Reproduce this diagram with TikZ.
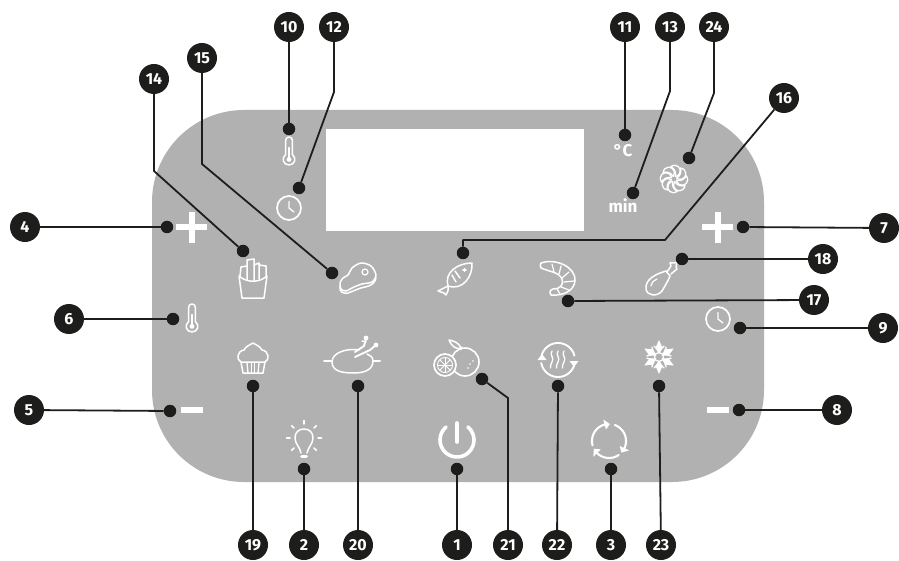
\documentclass[tikz,border=0pt]{standalone}
\usepackage{fontspec}
\setmainfont{Fira Sans}
\definecolor{panelgray}{HTML}{B1B1B1}
\definecolor{inkblack}{HTML}{1D1D1B}
\tikzset{
  panel/.style={rectangle,fill=panelgray,rounded corners=92pt,minimum width=612pt,minimum height=372pt,inner sep=0},
  screen/.style={rectangle,fill=white,minimum width=258pt,minimum height=102pt,inner sep=0},
  num/.style={circle,fill=inkblack,text=white,minimum size=30pt,inner sep=0,font=\fontsize{16}{16}\selectfont\bfseries},
  dotnode/.style={circle,fill=inkblack,minimum size=12.5pt,inner sep=0},
  conn/.style={draw=inkblack,line width=1.8pt,line join=round},
  ico/.style={draw=white,line width=1.5pt,line join=round,line cap=round},
  panellabel/.style={text=white,inner sep=0,font=\fontsize{17}{17}\selectfont\bfseries}
}
\newcommand\ringarc[4][ico]{\draw[#1] plot[smooth,samples=24,domain=#3:#4,variable=\t] ({#2*cos(\t)},{#2*sin(\t)});}
\newcommand\ringhead[3]{\fill[white] (#2:{#1-5.2}) -- (#2:{#1+5.2}) -- ({#2+#3}:#1) -- cycle;}
\newcommand\thermo{%
  \draw[ico] (-3.6,-14) -- (-3.6,1.5) .. controls (-9,6) and (-6,13) .. (0,13) .. controls (6,13) and (9,6) .. (3.6,1.5) -- (3.6,-14) .. controls (3.6,-18.5) and (-3.6,-18.5) .. (-3.6,-14) -- cycle;
  \draw[ico,line width=1.1pt] (0,-6) -- (0,6);
  \fill[white] (0,7) circle[radius=2.6pt];}
\newcommand\clock[1]{%
  \draw[ico,line width=1.7pt] (0,0) circle[radius=#1pt];
  \draw[ico,line width=1.3pt] (0,-6.5) -- (0,0) -- (5,4);}
\begin{document}
\begin{tikzpicture}[x=1pt,y=-1pt]
\useasboundingbox (0,0) rectangle (899,561);
\fill[white] (0,0) rectangle (899,561);
\node[panel] (panel) at (458,296) {};
\node[screen] (display) at (455,180) {};

% ---- icons ----
% plus / minus
\fill[white] (176,224.5) rectangle (207,230); \fill[white] (189.2,212) rectangle (194.8,243);
\fill[white] (702,224.5) rectangle (733,230); \fill[white] (715.2,212) rectangle (720.8,243);
\fill[white] (181,407) rectangle (203,413);
\fill[white] (707,407) rectangle (729,413);
% thermometers, clocks
\begin{scope}[shift={(289,153)},scale=0.92]\thermo\end{scope}
\begin{scope}[shift={(192,320)},scale=0.92]\thermo\end{scope}
\begin{scope}[shift={(289,208)}]\clock{12}\end{scope}
\begin{scope}[shift={(718,319)}]\clock{12}\end{scope}
\node[panellabel] (degc) at (623,151) {°C};
\node[panellabel] (mintxt) at (623,206) {min};
% fan
\begin{scope}[shift={(674,179)},scale=0.82]
  \foreach \a in {0,45,...,315}{
    \begin{scope}[rotate=\a]
      \draw[ico,line width=1.3pt] (1.5,-3) .. controls (3,-9) and (0,-13) .. (-4,-15) .. controls (3,-20) and (10,-13) .. (7,-7) .. controls (6,-5) and (4,-3) .. (1.5,-3);
    \end{scope}}
\end{scope}
% fries
\begin{scope}[shift={(253,279)}]
  \draw[ico] (-14,-3) -- (-11,19) -- (11,19) -- (14,-3) .. controls (6,4) and (-6,4) .. (-14,-3) -- cycle;
  \draw[ico] (-13,-3) -- (-12,-12) -- (-6,-13) -- (-6,1);
  \draw[ico] (-6,-13) -- (-6,-19) -- (1,-20) -- (1,2);
  \draw[ico] (1,-14) -- (6,-16) -- (6,0);
  \draw[ico] (6,-14) -- (13,-13) -- (13,-3);
\end{scope}
% steak
\begin{scope}[shift={(357,278)}]
  \draw[ico] plot[smooth cycle] coordinates {(-17,5) (-14,0) (-9,-3) (-5,-10) (4,-15) (14,-12) (19,-3) (15,4) (5,6) (-3,9) (-11,13) (-16,11)};
  \draw[ico] (-17,8) .. controls (-18,14) and (-14,16) .. (-9,15) .. controls (-3,13) and (2,10) .. (8,9) .. controls (14,8) and (18,5) .. (19,0);
  \draw[ico,line width=1.2pt] (8,-6) circle[radius=3pt];
\end{scope}
% fish
\begin{scope}[shift={(455,278)}]
  \draw[ico] (-7,8) .. controls (-11,-5) and (2,-15) .. (17,-15) .. controls (18,-2) and (8,13) .. (-7,8);
  \draw[ico] (-7,8) -- (-17,13) -- (-11,15) -- (-9,17) .. controls (-7,13) and (-6,11) .. (-7,8);
  \draw[ico] (-3,-3) -- (1,4); \draw[ico] (0,-7) -- (5,0);
  \draw[ico] (8,-8) -- (11,-8); \draw[ico] (9.5,-9.5) -- (9.5,-6.5);
\end{scope}
% shrimp
\begin{scope}[shift={(558,278)}]
  \draw[ico] (-17,-15) .. controls (-4,-20) and (18,-12) .. (17,3) .. controls (16,13) and (5,18) .. (-7,17) .. controls (-9,14) and (-8,12) .. (-5,11) .. controls (3,11) and (6,6) .. (4,1) .. controls (1,-6) and (-8,-6) .. (-17,-10) .. controls (-18,-12) and (-18,-14) .. (-17,-15) -- cycle;
  \draw[ico,line width=1.2pt] (-6,-14) -- (-4,-6); \draw[ico,line width=1.2pt] (3,-12) -- (1,-4);
  \draw[ico,line width=1.2pt] (11,-6) -- (4,0); \draw[ico,line width=1.2pt] (16,3) -- (6,4); \draw[ico,line width=1.2pt] (11,12) -- (3,9); \draw[ico,line width=1.2pt] (2,16) -- (-1,11);
\end{scope}
% drumstick
\begin{scope}[shift={(662,278)}]
  \draw[ico] (4,-7) .. controls (-6,-4) and (-17,1) .. (-16,11) .. controls (-15,18) and (-5,19) .. (0,13) .. controls (3,8) and (6,3) .. (8,-2);
  \draw[ico] (4,-7) -- (8,-2);
  \draw[ico] (5,-6) -- (9,-12) -- (8,-15) -- (12,-15) -- (15,-16) -- (14,-11) -- (15,-9) -- (9,-4);
  \draw[ico,line width=1.2pt] (-11,8) .. controls (-10,4) and (-8,2) .. (-5,1);
\end{scope}
% muffin
\begin{scope}[shift={(253,360)}]
  \draw[ico] (-12,2) .. controls (-17,0) and (-16,-9) .. (-9,-10) .. controls (-7,-14) and (-3,-15) .. (0,-17) .. controls (3,-15) and (7,-14) .. (9,-10) .. controls (16,-9) and (17,0) .. (12,2) -- cycle;
  \draw[ico] (-12,2) -- (-10,13) -- (10,13) -- (12,2);
  \draw[ico,line width=1.3pt] (-6,3) -- (-5,13); \draw[ico,line width=1.3pt] (-1.5,3) -- (-1.5,13); \draw[ico,line width=1.3pt] (1.5,3) -- (1.5,13); \draw[ico,line width=1.3pt] (6,3) -- (5,13);
\end{scope}
% roast chicken
\begin{scope}[shift={(352,360)}]
  \draw[ico,line width=2pt] (-28,1) -- (-21,1); \draw[ico,line width=2pt] (21,1) -- (28,1);
  \draw[ico] (7,-10) .. controls (-4,-12) and (-20,-8) .. (-20,2) .. controls (-20,12) and (-8,13) .. (2,13) .. controls (12,13) and (21,10) .. (21,1) .. controls (21,-3) and (18,-5) .. (15,-6);
  \draw[ico,line width=1.9pt] (3,-8) -- (12,-14) -- (14,-21); \draw[ico,line width=1.9pt] (3,-3) -- (18,-10) -- (24,-15);
  \fill[white] (14,-22) circle[radius=2.4pt]; \fill[white] (24,-15) circle[radius=2.4pt];
  \draw[ico] (10,-19) -- (14,-18);
\end{scope}
% citrus
\begin{scope}[shift={(457,358)}]
  \draw[ico,line width=1.6pt] (8,4) circle[radius=14pt];
  \draw[draw=white,fill=panelgray,line width=1.7pt] (-12,7) circle[radius=11pt];
  \draw[ico,line width=0.9pt] (-12,7) circle[radius=7.5pt];
  \foreach \a in {0,45,...,315}{\draw[ico,line width=0.8pt] (-12,7) -- ++(\a:7);}
  \draw[ico] (-8,-18) .. controls (-3,-17) and (3,-15) .. (4,-9) .. controls (-1,-9) and (-6,-12) .. (-8,-18) -- cycle;
  \draw[ico] (4,-9) -- (5,-11);
  \fill[white] (13,6) circle[radius=0.8pt] (16,3) circle[radius=0.8pt] (11,10) circle[radius=0.8pt];
\end{scope}
% steam recirculation
\begin{scope}[shift={(558,360)}]
  \ringarc[ico,line width=1.9pt]{17}{195}{345}
  \ringarc[ico,line width=1.9pt]{17}{20}{170}
  \fill[white] (20.5,1) -- (11.5,1) -- (16,7) -- cycle;
  \fill[white] (-20.5,0) -- (-11.5,0) -- (-16,-6) -- cycle;
  \foreach \x in {-6,0,6}{\draw[ico,line width=1.3pt] (\x,-9) .. controls (\x-3,-5) and (\x+3,-2) .. (\x,2) .. controls (\x-2,4) and (\x-1,6) .. (\x-1.5,8);}
\end{scope}
% snowflake
\begin{scope}[shift={(659,357)}]
  \foreach \a in {0,60,...,300}{
    \begin{scope}[rotate=\a]
      \fill[white] (0,-3) -- (3.6,-9) -- (0,-17) -- (-3.6,-9) -- cycle;
      \draw[ico,line width=1.4pt] (-5,-11) -- (0,-6) -- (5,-11);
    \end{scope}}
  \draw[ico,line width=1.2pt] (0,0) circle[radius=4.5pt];
\end{scope}
% bulb
\begin{scope}[shift={(304,438)}]
  \draw[ico] (-3,15) .. controls (-4,9) and (-9,6) .. (-9,0) .. controls (-9,-6) and (-5,-9) .. (0,-9) .. controls (5,-9) and (9,-6) .. (9,0) .. controls (9,6) and (4,9) .. (3,15);
  \draw[ico,line width=3pt] (-2.5,18.5) -- (2.5,18.5);
  \foreach \a in {-180,-135,-90,-45,0,45,135}{\draw[ico] (\a:14) -- (\a:17.5);}
\end{scope}
% power
\begin{scope}[shift={(457,440)}]
  \ringarc[ico,line width=3.6pt]{17}{-50}{230}
  \draw[ico,line width=3.6pt] (0,-17) -- (0,2);
\end{scope}
% cycle
\begin{scope}[shift={(609,441)}]
  \ringarc[ico,line width=2.1pt]{17}{165}{258}
  \ringarc[ico,line width=2.1pt]{17}{-70}{27}
  \ringarc[ico,line width=2.1pt]{17}{55}{137}
  \ringhead{17}{255}{18}
  \ringhead{17}{25}{18}
  \ringhead{17}{135}{18}
\end{scope}

% ---- anchor dots ----
\foreach \n/\x/\y in {10/289/129,12/299/188,11/625/135,13/633/193,24/689/158,16/463/253,14/243/251,15/332/273,4/167/227,6/173/319,5/170/411,19/253/386,20/358/386,2/304/469,1/457/469,21/482/379,22/558/386,3/611/469,23/659/386,17/568/301,18/682/259,7/743/227,9/740/328,8/739/410}
  {\node[dotnode] (d\n) at (\x,\y) {};}

% ---- numbered callouts ----
\foreach \n/\x/\y in {10/289/27,12/334/27,11/625/27,13/670/27,24/714/27,16/784/98,14/154/79,15/202/58,4/25/227,6/69/319,5/29/410,19/253/545,2/304/545,20/358/545,1/457/545,21/508/545,22/557/545,3/611/545,23/661/545,7/884/228,18/823/259,17/814/300,9/883/328,8/837/410}
  {\node[num] (n\n) at (\x,\y) {\n};}

% ---- bend points ----
\coordinate (b12) at (334,92);
\coordinate (b13) at (670,91);
\coordinate (b24) at (714,93);
\coordinate (b14) at (154,171);
\coordinate (b15) at (202,164);
\coordinate (b16a) at (463,240);
\coordinate (b16b) at (665,240);
\coordinate (b21) at (508,398);

% ---- connectors ----
\foreach \n in {10,11,4,6,5,19,20,2,1,22,3,23,17,18,7,9,8}
  {\draw[conn] (d\n) -- (n\n);}
\draw[conn] (d12) -- (b12) -- (n12);
\draw[conn] (d13) -- (b13) -- (n13);
\draw[conn] (d24) -- (b24) -- (n24);
\draw[conn] (d14) -- (b14) -- (n14);
\draw[conn] (d15) -- (b15) -- (n15);
\draw[conn] (d16) -- (b16a) -- (b16b) -- (n16);
\draw[conn] (d21) -- (b21) -- (n21);
\end{tikzpicture}
\end{document}
